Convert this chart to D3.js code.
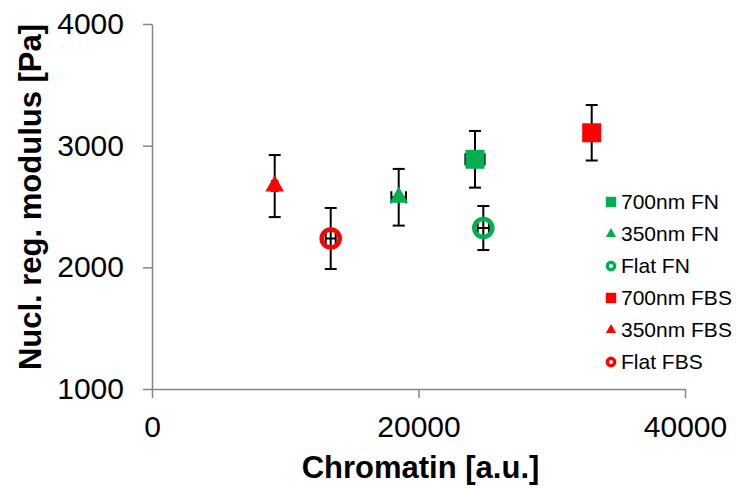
<!DOCTYPE html>
<html>
<head>
<meta charset="utf-8">
<script src="https://cdn.jsdelivr.net/npm/d3@7"></script>
<style>
  body { margin: 0; background: #fff; }
  text { font-family: "Liberation Sans", Arial, sans-serif; }
</style>
</head>
<body>
<div id="chart"></div>
<script>
// series
var seriesNames = ["700nm FN", "350nm FN", "Flat FN", "700nm FBS", "350nm FBS", "Flat FBS"];
var seriesColors = ["#00B050", "#00B050", "#00B050", "#FF0000", "#FF0000", "#FF0000"];
var seriesShapes = ["square", "triangle", "circle", "square", "triangle", "circle"];
var chromatin = [24240, 18514, 24863, 32998, 9208, 13411];
var chromatinErr = [720, 550, 425, 300, 200, 375];
var modulus = [2888, 2576, 2323, 3106, 2668, 2237];
var modulusErr = [233, 233, 181, 228, 255, 251];
var xTicks = [0, 20000, 40000];
var yTicks = [1000, 2000, 3000, 4000];

(function() {
    var width = 736,
    height = 488;

    var svg = d3.select("#chart")
        .append("svg")
        .attr("width", width)
        .attr("height", height)

    var x = d3.scaleLinear().domain([0, 40000]).range([152, 685])
    var y = d3.scaleLinear().domain([1000, 4000]).range([389, 24])

    var points = seriesNames.map(function(name, i) {
        return {name: name, color: seriesColors[i], shape: seriesShapes[i],
            x: chromatin[i], xe: chromatinErr[i], y: modulus[i], ye: modulusErr[i]}
    })

    // axes
    var xAxis = svg.append("g")
        .attr("transform", "translate(0," + y(1000) + ")")
        .call(d3.axisBottom(x).tickValues(xTicks).tickSize(9).tickSizeOuter(0).tickPadding(18).tickFormat(d3.format("d")))
    var yAxis = svg.append("g")
        .attr("transform", "translate(" + x(0) + ",0)")
        .call(d3.axisLeft(y).tickValues(yTicks).tickSize(9).tickSizeOuter(0).tickPadding(19).tickFormat(d3.format("d")))

    ;[xAxis, yAxis].forEach(function(a) {
        a.selectAll("path, line").attr("stroke", "#868686").attr("stroke-width", 1.5)
        a.selectAll("text").attr("fill", "#000").style("font-size", "30px")
    })

    // axis titles
    svg.append("text")
        .attr("x", (x(0) + x(40000)) / 2 + 2)
        .attr("y", 478)
        .attr("text-anchor", "middle")
        .style("font-size", "31px").style("font-weight", "bold")
        .text("Chromatin [a.u.]")

    svg.append("text")
        .attr("transform", "translate(41," + 197 + ") rotate(-90)")
        .attr("text-anchor", "middle")
        .style("font-size", "31px").style("font-weight", "bold")
        .text("Nucl. reg. modulus [Pa]")

    // error bars behind the markers
    var cap = 6
    var err = svg.append("g").attr("stroke", "#000").attr("stroke-width", 2)
    points.forEach(function(d) {
        var cx = x(d.x), cy = y(d.y)
        var y0 = y(d.y - d.ye), y1 = y(d.y + d.ye)
        var x0 = x(d.x - d.xe), x1 = x(d.x + d.xe)
        err.append("line").attr("x1", cx).attr("x2", cx).attr("y1", y0).attr("y2", y1)
        err.append("line").attr("x1", cx - cap).attr("x2", cx + cap).attr("y1", y0).attr("y2", y0)
        err.append("line").attr("x1", cx - cap).attr("x2", cx + cap).attr("y1", y1).attr("y2", y1)
        err.append("line").attr("x1", x0).attr("x2", x1).attr("y1", cy).attr("y2", cy)
        err.append("line").attr("x1", x0).attr("x2", x0).attr("y1", cy - cap).attr("y2", cy + cap)
        err.append("line").attr("x1", x1).attr("x2", x1).attr("y1", cy - cap).attr("y2", cy + cap)
    })

    function marker(g, shape, color, s, ring) {
        if (shape === "circle") {
            g.append("circle").attr("r", ring ? ring[0] : 9).attr("fill", "none")
                .attr("stroke", color).attr("stroke-width", ring ? ring[1] : 4.6)
        } else if (shape === "square") {
            g.append("path").attr("d", d3.symbol(d3.symbolSquare, 19 * 19 * s * s)()).attr("fill", color)
        } else {
            g.append("path").attr("d", d3.symbol(d3.symbolTriangle, 150 * s * s)()).attr("fill", color)
        }
    }

    points.forEach(function(d) {
        var g = svg.append("g").attr("transform", "translate(" + x(d.x) + "," + y(d.y) + ")")
        marker(g, d.shape, d.color, 1)
    })

    // legend
    var legend = svg.append("g")
    points.forEach(function(d, i) {
        var ly = 202 + i * 32
        var g = legend.append("g").attr("transform", "translate(611," + ly + ")")
        marker(g, d.shape, d.color, 0.55, [3.7, 3.4])
        legend.append("text")
            .attr("x", 621).attr("y", ly + 7)
            .style("font-size", "21px")
            .text(d.name)
    })
})();
</script>
</body>
</html>
